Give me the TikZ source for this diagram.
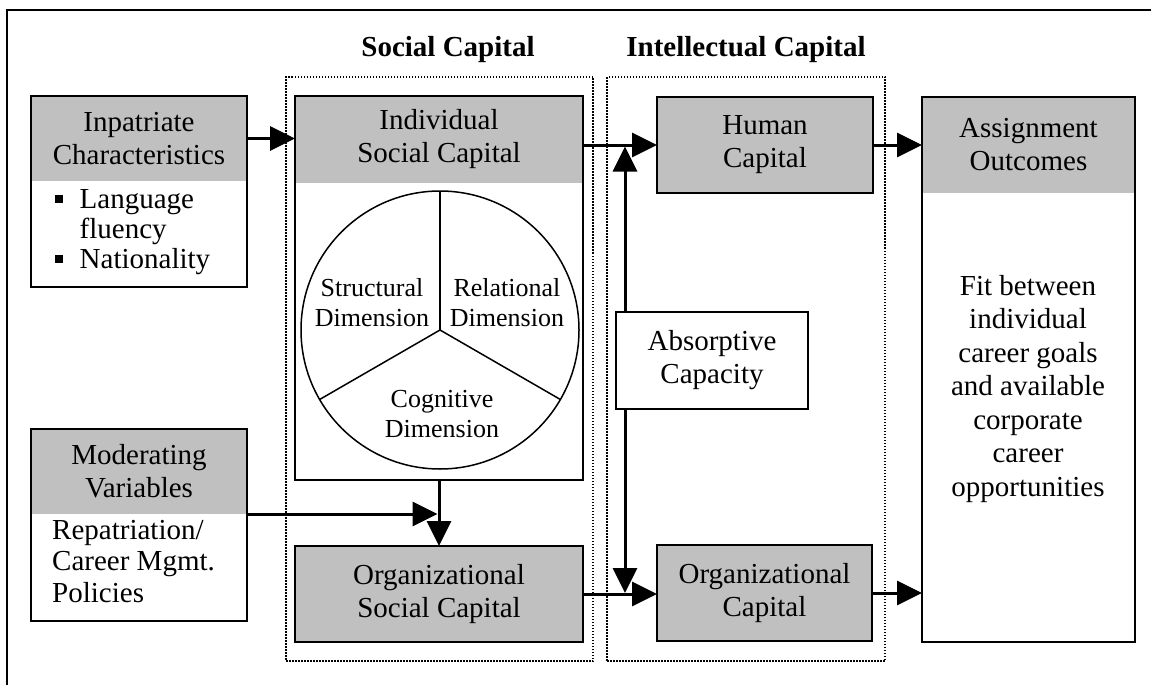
\documentclass[tikz,border=0pt]{standalone}
\usepackage{fontspec}
\setmainfont{Liberation Serif}
\usetikzlibrary{arrows.meta}
\definecolor{boxgray}{RGB}{192,192,192}

\begin{document}
\begin{tikzpicture}[x=1pt,y=-1pt,
    every node/.style={font=\fontsize{29}{33}\selectfont},
    greyhead/.style={fill=boxgray,inner sep=0pt,outer sep=0pt,align=center},
    greybox/.style={greyhead,draw,line width=2pt},
    boxline/.style={draw,line width=2pt,inner sep=0pt,outer sep=0pt},
    capgroup/.style={draw,line width=1.5pt,dash pattern=on 1.5pt off 1.5pt,inner sep=0pt},
    dimtext/.style={align=center,font=\fontsize{26}{30}\selectfont},
    arr/.style={line width=3pt,-{Triangle[length=25pt,width=24pt]}}]
\useasboundingbox (0,0) rectangle (1151,685);
\draw[line width=1.5pt] (7,685) -- (7,10) -- (1151,10);

% dotted groups and their titles
\node[capgroup,minimum width=307pt,minimum height=584pt] (social) at (439.5,369) {};
\node[capgroup,minimum width=278pt,minimum height=584pt] (intel) at (746,369) {};
\node[anchor=base,font=\fontsize{29}{33}\selectfont\bfseries] (socialT) at (448,57) {Social Capital};
\node[anchor=base,font=\fontsize{29}{33}\selectfont\bfseries] (intelT) at (746,57) {Intellectual Capital};

% left column
\node[greyhead,minimum width=216pt,minimum height=85pt] (inpatH) at (139,138.5) {Inpatriate\\Characteristics};
\node[boxline,minimum width=216pt,minimum height=191pt] (inpat) at (139,191.5) {};
\node[anchor=west,inner sep=0pt] (inpatL) at (55,232) {%
  \fontsize{29}{30}\selectfont
  \begin{tabular}{@{}l@{\hspace{16.5pt}}l@{}}
  \rule[5.5pt]{8pt}{8pt} & Language\\
   & fluency\\
  \rule[5.5pt]{8pt}{8pt} & Nationality
  \end{tabular}};

\node[greyhead,minimum width=216pt,minimum height=85pt] (modH) at (139,471.5) {Moderating\\Variables};
\node[boxline,minimum width=216pt,minimum height=192pt] (mod) at (139,525) {};
\node[anchor=west,align=left,inner sep=0pt,font=\fontsize{29}{31.5}\selectfont] (modL) at (52,561.5) {Repatriation/\\Career Mgmt.\\Policies};

% social capital
\node[greyhead,minimum width=288pt,minimum height=87pt] (indivH) at (439,139.5) {Individual\\Social Capital};
\node[boxline,minimum width=288pt,minimum height=384pt] (indiv) at (439,288) {};
\node[circle,draw,line width=1.5pt,outer sep=0pt,minimum size=278pt] (wheel) at (440,330) {};
\draw[line width=1.5pt] (wheel.center) -- (wheel.north);
\draw[line width=1.5pt] (wheel.center) -- (wheel.210);
\draw[line width=1.5pt] (wheel.center) -- (wheel.-30);
\node[dimtext] (struct) at (372,303) {Structural\\Dimension};
\node[dimtext] (relat) at (507,303) {Relational\\Dimension};
\node[dimtext] (cogn) at (442,414) {Cognitive\\Dimension};
\node[greybox,minimum width=288pt,minimum height=96pt] (orgsoc) at (439,594) {Organizational\\Social Capital};

% intellectual capital
\node[greybox,minimum width=216pt,minimum height=96pt] (human) at (765,145) {Human\\Capital};
\node[boxline,align=center,minimum width=192pt,minimum height=97pt] (absorb) at (712,360.5) {Absorptive\\Capacity};
\node[greybox,minimum width=215pt,minimum height=96pt] (orgcap) at (764.5,593) {Organizational\\Capital};

% outcomes
\node[greyhead,minimum width=213pt,minimum height=96pt] (assignH) at (1028.5,145) {Assignment\\Outcomes};
\node[boxline,minimum width=213pt,minimum height=545pt] (assign) at (1028.5,369.5) {};
\node[align=center,inner sep=0pt,font=\fontsize{29}{33.5}\selectfont] (assignL) at (1028,389) {Fit between\\individual\\career goals\\and available\\corporate\\career\\opportunities};

% arrows
\draw[arr] (inpatH.east) -- (inpatH.east -| indiv.west);
\draw[arr] (indiv.east |- human.west) -- (human.west);
\draw[arr] (human.east) -- (human.east -| assign.west);
\draw[arr] (orgsoc.east) -- (orgsoc.east -| orgcap.west);
\draw[arr] (orgcap.east) -- (orgcap.east -| assign.west);
\draw[arr] (indiv.south) -- (orgsoc.north);
\draw[arr,shorten >=1.5pt] (modH.south east) -- (modH.south east -| indiv.south);
\draw[arr,shorten >=1.5pt] ([xshift=9pt]absorb.north west) -- ([xshift=9pt]absorb.north west |- human.west);
\draw[arr] ([xshift=9pt]absorb.south west) -- ([xshift=9pt]absorb.south west |- orgcap.west);
\end{tikzpicture}
\end{document}
